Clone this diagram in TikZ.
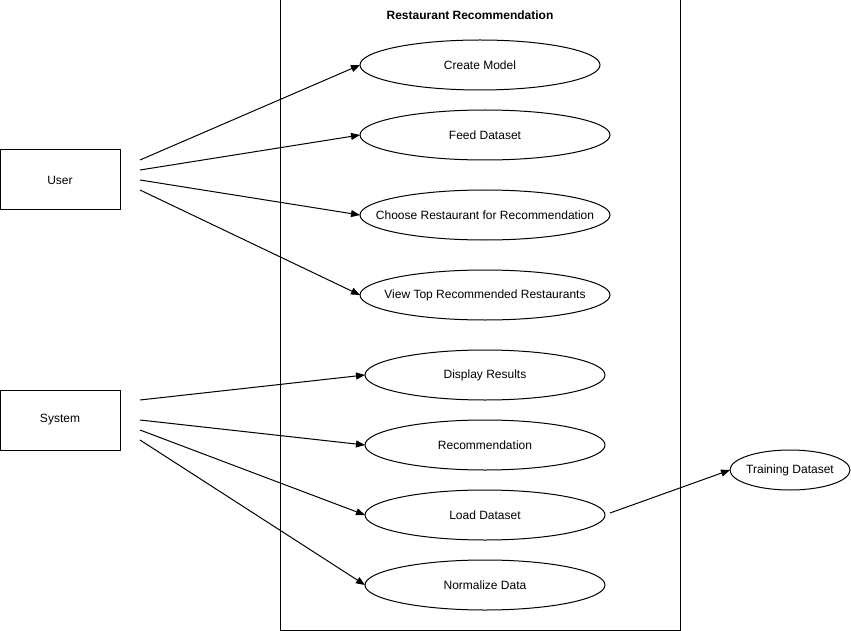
\documentclass[tikz,border=0pt]{standalone}
\usepackage{fontspec}
\setmainfont{Liberation Sans}
\usetikzlibrary{shapes.geometric,arrows.meta}
\newcommand{\ucl}[1]{\makebox[0pt]{#1}}
\begin{document}
\begin{tikzpicture}[x=1pt,y=-1pt,
  font=\fontsize{12}{14}\selectfont,
  every node/.style={inner sep=0pt, outer sep=0pt},
  actor/.style={draw, line width=1pt, minimum width=120pt, minimum height=60pt},
  usecase/.style={draw, ellipse, line width=1pt, minimum height=50pt},
  conn/.style={line width=1pt, -{Triangle[length=9pt,width=7pt]}}]
\useasboundingbox (0,0) rectangle (851,631);
\node[draw, line width=1pt, minimum width=400pt, minimum height=630pt] (sys) at (480,315) {};
\node[font=\fontsize{12}{14}\selectfont\bfseries] (title) at (470,15) {Restaurant Recommendation};
\node[actor] (user) at (60,180) {User};
\node[actor] (system) at (60,420) {System};
\node[usecase, minimum width=240pt] (cm) at (480,65) {\ucl{Create Model}};
\node[usecase, minimum width=250pt] (fd) at (485,135) {\ucl{Feed Dataset}};
\node[usecase, minimum width=250pt] (cr) at (485,215) {\ucl{Choose Restaurant for Recommendation}};
\node[usecase, minimum width=250pt] (vt) at (485,295) {\ucl{View Top Recommended Restaurants}};
\node[usecase, minimum width=240pt] (dr) at (485,375) {\ucl{Display Results}};
\node[usecase, minimum width=240pt] (rec) at (485,445) {\ucl{Recommendation}};
\node[usecase, minimum width=240pt] (ld) at (485,515) {\ucl{Load Dataset}};
\node[usecase, minimum width=240pt] (nd) at (485,585) {\ucl{Normalize Data}};
\node[usecase, minimum width=120pt, minimum height=40pt] (td) at (790,470) {\ucl{Training Dataset}};
\coordinate (u1) at (140,160);
\coordinate (u2) at (140,170);
\coordinate (u3) at (140,180);
\coordinate (u4) at (140,190);
\coordinate (s1) at (140,400);
\coordinate (s2) at (140,420);
\coordinate (s3) at (140,430);
\coordinate (s4) at (140,440);
\coordinate (l1) at (610,513);
\draw[conn] (u1) -- (cm.west);
\draw[conn] (u2) -- (fd.west);
\draw[conn] (u3) -- (cr.west);
\draw[conn] (u4) -- (vt.west);
\draw[conn] (s1) -- (dr.west);
\draw[conn] (s2) -- (rec.west);
\draw[conn] (s3) -- (ld.west);
\draw[conn] (s4) -- (nd.west);
\draw[conn] (l1) -- (td.west);
\end{tikzpicture}
\end{document}
